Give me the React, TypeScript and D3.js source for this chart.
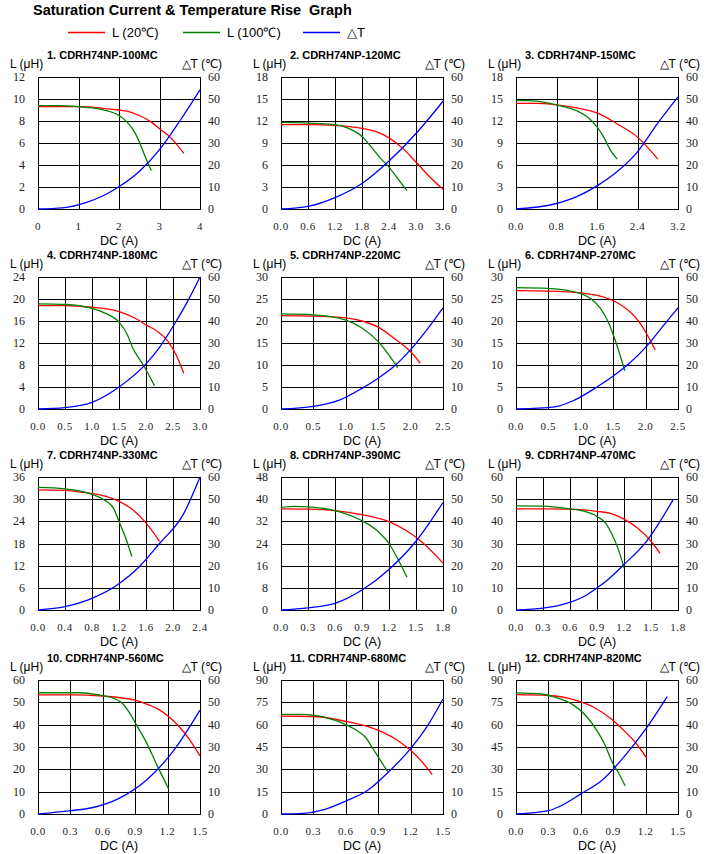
import React from "react";
import * as d3 from "d3";

type Pt = [number, number];

const TITLES = [
  "1. CDRH74NP-100MC", "2. CDRH74NP-120MC", "3. CDRH74NP-150MC",
  "4. CDRH74NP-180MC", "5. CDRH74NP-220MC", "6. CDRH74NP-270MC",
  "7. CDRH74NP-330MC", "8. CDRH74NP-390MC", "9. CDRH74NP-470MC",
  "10. CDRH74NP-560MC", "11. CDRH74NP-680MC", "12. CDRH74NP-820MC",
];

const X_MAX = [4, 3.6, 3.2, 3, 2.5, 2.5, 2.4, 1.8, 1.8, 1.5, 1.5, 1.5];
const X_STEP = [1, 0.6, 0.8, 0.5, 0.5, 0.5, 0.4, 0.3, 0.3, 0.3, 0.3, 0.3];
const L_MAX = [12, 18, 18, 24, 30, 30, 36, 48, 60, 60, 90, 90];
const L_STEP = [2, 3, 3, 4, 5, 5, 6, 8, 10, 10, 15, 15];
const T_MAX = 60;
const T_STEP = 10;

// L at 20°C (µH) vs DC (A)
const L20: Pt[][] = [
  [[0, 9.3], [0.5, 9.3], [1, 9.3], [1.5, 9.2], [2, 9.0], [2.2, 8.9], [2.5, 8.5], [2.8, 7.9], [3.0, 7.3], [3.3, 6.4], [3.6, 5.05]],
  [[0, 11.5], [0.6, 11.5], [1.2, 11.4], [1.8, 11.0], [2.1, 10.6], [2.4, 9.7], [2.7, 8.3], [3.0, 6.4], [3.3, 4.4], [3.6, 2.7]],
  [[0, 14.4], [0.4, 14.4], [0.8, 14.2], [1.2, 13.8], [1.6, 13.1], [2.0, 11.6], [2.4, 9.8], [2.6, 8.4], [2.8, 6.8]],
  [[0, 18.8], [0.5, 18.8], [1.0, 18.5], [1.5, 17.7], [1.8, 16.5], [2.0, 15.3], [2.2, 14.2], [2.4, 12.4], [2.55, 10.0], [2.7, 6.5]],
  [[0, 21.2], [0.5, 21.1], [1.0, 20.7], [1.25, 20.0], [1.5, 18.6], [1.75, 16.0], [2.0, 13.0], [2.15, 10.4]],
  [[0, 26.9], [0.5, 26.8], [1.0, 26.4], [1.25, 25.8], [1.5, 24.6], [1.75, 22.2], [1.9, 19.8], [2.0, 17.5], [2.15, 13.4]],
  [[0, 32.5], [0.4, 32.4], [0.6, 32], [0.9, 31.2], [1.2, 29.4], [1.4, 27.2], [1.6, 23.6], [1.8, 18.6]],
  [[0, 36.5], [0.3, 36.4], [0.6, 35.9], [0.9, 34.4], [1.2, 31.9], [1.4, 28.5], [1.55, 25], [1.8, 16.9]],
  [[0, 45.6], [0.3, 45.6], [0.6, 45.5], [0.9, 44.5], [1.05, 43.6], [1.2, 41], [1.35, 37], [1.5, 31], [1.6, 25.6]],
  [[0, 53.3], [0.3, 53.3], [0.6, 52.8], [0.9, 51], [1.0, 49.3], [1.1, 47.3], [1.2, 44], [1.3, 39.5], [1.4, 33.5], [1.5, 26]],
  [[0, 65.7], [0.3, 65.5], [0.6, 62.2], [0.8, 58.8], [0.95, 54.6], [1.08, 49.4], [1.2, 42.8], [1.3, 35.5], [1.4, 26.5]],
  [[0, 80.2], [0.3, 79.6], [0.55, 76.5], [0.72, 71.7], [0.88, 64], [1.0, 56], [1.1, 48.5], [1.21, 37.6]],
];

// L at 100°C (µH) vs DC (A)
const L100: Pt[][] = [
  [[0, 9.4], [0.5, 9.4], [1.0, 9.3], [1.5, 9.1], [2.0, 8.5], [2.2, 7.9], [2.4, 6.9], [2.5, 6.1], [2.6, 5.2], [2.7, 4.3], [2.8, 3.5]],
  [[0, 11.8], [0.6, 11.7], [1.2, 11.5], [1.5, 11.0], [1.8, 9.9], [2.0, 8.5], [2.2, 7.0], [2.4, 5.7], [2.6, 4.1], [2.8, 2.5]],
  [[0, 14.8], [0.4, 14.7], [0.8, 14.2], [1.2, 13.4], [1.4, 12.6], [1.6, 11.2], [1.75, 9.6], [1.85, 8.2], [2.0, 6.8]],
  [[0, 19.1], [0.5, 19.0], [1.0, 18.3], [1.25, 17.4], [1.5, 15.8], [1.65, 13.6], [1.75, 11.2], [1.95, 8.0], [2.16, 4.2]],
  [[0, 21.6], [0.5, 21.4], [1.0, 20.2], [1.25, 18.4], [1.5, 15.3], [1.65, 12.6], [1.8, 9.4]],
  [[0, 27.6], [0.5, 27.4], [1.0, 26.2], [1.15, 25.1], [1.3, 22.9], [1.42, 19.9], [1.53, 15.7], [1.6, 12.5], [1.68, 8.7]],
  [[0, 33.2], [0.4, 32.8], [0.8, 31.3], [1.0, 29.6], [1.12, 27.5], [1.2, 24], [1.3, 19.4], [1.39, 14.5]],
  [[0, 37], [0.15, 37.4], [0.3, 37.2], [0.6, 35.9], [0.9, 32.2], [1.08, 28.3], [1.2, 24], [1.3, 18.3], [1.4, 11.8]],
  [[0, 47], [0.3, 46.9], [0.6, 45.6], [0.75, 44.6], [0.9, 42.2], [1.0, 39], [1.06, 34.7], [1.14, 27], [1.2, 19]],
  [[0, 54.3], [0.4, 54.3], [0.55, 53.4], [0.7, 51.8], [0.78, 49.6], [0.84, 45.8], [0.91, 40], [1.0, 32.4], [1.1, 22], [1.21, 11.2]],
  [[0, 66.9], [0.2, 66.9], [0.4, 65], [0.6, 60], [0.7, 56.2], [0.78, 51.7], [0.85, 44], [0.92, 36], [0.99, 28.3]],
  [[0, 81.3], [0.23, 80.6], [0.38, 78], [0.54, 72.8], [0.66, 65], [0.75, 56], [0.82, 47], [0.89, 35], [0.95, 27.5], [1.01, 19]],
];

// Temperature rise ΔT (°C) vs DC (A)
const DT: Pt[][] = [
  [[0, 0], [0.6, 0.5], [1.2, 3], [1.9, 9], [2.5, 17], [3.0, 27], [3.5, 40], [4.0, 54.2]],
  [[0, 0], [0.6, 1.2], [1.2, 5.2], [1.8, 11.6], [2.4, 21.8], [3.0, 34.3], [3.6, 49]],
  [[0, 0], [0.8, 2.5], [1.2, 5.6], [1.6, 10.5], [2.0, 17], [2.4, 26], [2.8, 39], [3.2, 51]],
  [[0, 0], [0.5, 0.6], [1.0, 3], [1.5, 10], [2.0, 20.5], [2.25, 28], [2.5, 37.5], [2.75, 48], [3.0, 60]],
  [[0, 0], [0.5, 1.2], [0.9, 4], [1.25, 9.4], [1.5, 14], [1.75, 19.5], [2.0, 27], [2.25, 36], [2.5, 46]],
  [[0, 0], [0.6, 1], [0.9, 4], [1.25, 10], [1.5, 15], [1.75, 20.8], [2.0, 28], [2.25, 37], [2.5, 46]],
  [[0, 0], [0.4, 1.5], [0.8, 5.2], [1.2, 11.8], [1.5, 19.5], [1.8, 30], [2.15, 43], [2.4, 60]],
  [[0, 0], [0.3, 1], [0.6, 3], [0.9, 9], [1.2, 18.3], [1.5, 31], [1.8, 48.5]],
  [[0, 0], [0.3, 0.8], [0.5, 2.3], [0.75, 6], [0.9, 10], [1.0, 13], [1.2, 20.5], [1.45, 31], [1.75, 50]],
  [[0, 0], [0.3, 1.5], [0.5, 2.8], [0.75, 7], [1.0, 15], [1.25, 28], [1.5, 46.5]],
  [[0, 0], [0.2, 0.3], [0.4, 2], [0.6, 5.8], [0.8, 10.5], [1.0, 19], [1.2, 29.3], [1.35, 39], [1.5, 51.5]],
  [[0, 0], [0.3, 1.5], [0.4, 3.3], [0.6, 9], [0.8, 15.2], [1.0, 25.6], [1.2, 38], [1.4, 52.6]],
];

const LEGEND = [
  { label: "L (20℃)", color: "#ff0000" },
  { label: "L (100℃)", color: "#008000" },
  { label: "△T", color: "#0000ff" },
];

const W = 715;
const H = 854;
const COL_LEFT = [38, 281, 516];
const PLOT_W = 162;
const ROW_TOP = [77, 277, 477, 680];
const ROW_H = [132, 132, 133, 134];

const SANS = "'Liberation Sans', Arial, sans-serif";
const SERIF = "'Liberation Serif', 'Times New Roman', serif";

function Panel({ i }: { i: number }) {
  const col = i % 3;
  const row = Math.floor(i / 3);
  const left = COL_LEFT[col];
  const top = ROW_TOP[row];
  const h = ROW_H[row];
  const right = left + PLOT_W;
  const bottom = top + h;

  const x = d3.scaleLinear().domain([0, X_MAX[i]]).range([left, right]);
  const yL = d3.scaleLinear().domain([0, L_MAX[i]]).range([bottom, top]);
  const yT = d3.scaleLinear().domain([0, T_MAX]).range([bottom, top]);

  const xTicks = d3.range(0, X_MAX[i] + 1e-9, X_STEP[i]);
  const lTicks = d3.range(0, L_MAX[i] + 1e-9, L_STEP[i]);
  const tTicks = d3.range(0, T_MAX + 1e-9, T_STEP);
  const xFmt = i === 0 ? d3.format("d") : d3.format(".1f");

  const lineL = d3
    .line<Pt>()
    .x((d) => x(d[0]))
    .y((d) => yL(d[1]))
    .curve(d3.curveMonotoneX);
  const lineT = d3
    .line<Pt>()
    .x((d) => x(d[0]))
    .y((d) => yT(d[1]))
    .curve(d3.curveMonotoneX);

  const snap = (v: number) => Math.round(v) + 0.5;

  return (
    <g>
      <text x={left + 9} y={top - 18} fontFamily={SANS} fontWeight="bold" fontSize={11}>
        {TITLES[i]}
      </text>
      <text x={left - 28} y={top - 9} fontFamily={SANS} fontSize={12}>
        L (μH)
      </text>
      <text x={right + 22} y={top - 9} fontFamily={SANS} fontSize={12} textAnchor="end">
        △T (℃)
      </text>
      {xTicks.map((t, k) => (
        <line key={"vx" + k} x1={snap(x(t))} x2={snap(x(t))} y1={top} y2={bottom} stroke="#000" strokeWidth={1} />
      ))}
      {lTicks.map((t, k) => (
        <line key={"hy" + k} x1={left} x2={right} y1={snap(yL(t))} y2={snap(yL(t))} stroke="#000" strokeWidth={1} />
      ))}
      <rect x={snap(left)} y={snap(top)} width={Math.round(PLOT_W)} height={Math.round(h)} fill="none" stroke="#000" strokeWidth={1} />
      {lTicks.map((t, k) => (
        <text key={"ly" + k} x={left - 13} y={yL(t) + 4} fontFamily={SERIF} fontSize={12} textAnchor="end" fill="#222">
          {t}
        </text>
      ))}
      {tTicks.map((t, k) => (
        <text key={"ty" + k} x={right + 8} y={yT(t) + 4} fontFamily={SERIF} fontSize={12} fill="#222">
          {t}
        </text>
      ))}
      {xTicks.map((t, k) => (
        <text key={"xl" + k} x={x(t)} y={bottom + 21} fontFamily={SERIF} fontSize={11} letterSpacing={0.6} textAnchor="middle" fill="#222">
          {xFmt(t)}
        </text>
      ))}
      <text x={(left + right) / 2} y={bottom + 36} fontFamily={SANS} fontSize={12.5} textAnchor="middle">
        DC (A)
      </text>
      <path d={lineL(L20[i]) || ""} fill="none" stroke="#ff0000" strokeWidth={1.3} />
      <path d={lineL(L100[i]) || ""} fill="none" stroke="#008000" strokeWidth={1.3} />
      <path d={lineT(DT[i]) || ""} fill="none" stroke="#0000ff" strokeWidth={1.3} />
    </g>
  );
}

export default function App() {
  const legendX = [68, 183, 303];
  return (
    <svg
      width={W}
      height={H}
      viewBox={`0 0 ${W} ${H}`}
      style={{ position: "absolute", left: 0, top: 0, background: "#fff" }}
    >
      <rect x={0} y={0} width={W} height={H} fill="#fff" />
      <text x={33} y={15} fontFamily={SANS} fontWeight="bold" fontSize={14.5} style={{ whiteSpace: "pre" }}>
        {"Saturation Current & Temperature Rise  Graph"}
      </text>
      {LEGEND.map((d, k) => (
        <g key={k}>
          <line x1={legendX[k]} x2={legendX[k] + 37} y1={32.5} y2={32.5} stroke={d.color} strokeWidth={1.5} />
          <text x={legendX[k] + 44} y={37} fontFamily={SANS} fontSize={13}>
            {d.label}
          </text>
        </g>
      ))}
      {TITLES.map((_, i) => (
        <Panel key={i} i={i} />
      ))}
    </svg>
  );
}
